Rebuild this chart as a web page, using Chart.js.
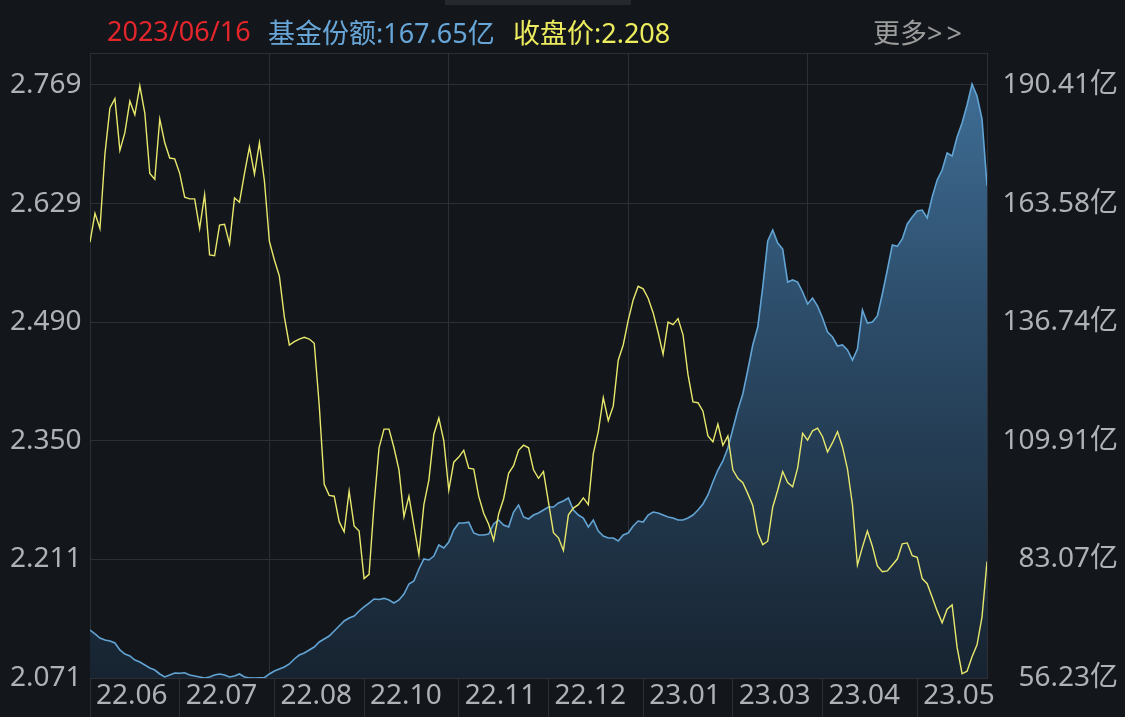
<!DOCTYPE html>
<html>
<head>
<meta charset="utf-8">
<script src="https://cdn.jsdelivr.net/npm/chart.js@4.4.0/dist/chart.umd.min.js"></script>
<style>
  body { margin: 0; background: #13161b; overflow: hidden; }
  #wrap { position: relative; width: 1125px; height: 717px; }
  #tab { position: absolute; left: 445px; top: 0; width: 186px; height: 5px; background: #25282d; }
  .hd { position: absolute; top: 12px; font-size: 27px; font-family: "Noto Sans", "Noto Sans CJK SC", sans-serif; white-space: nowrap; }
</style>
</head>
<body>
<div id="wrap">
  <canvas id="myChart" width="1125" height="717"></canvas>
  <div id="tab"></div>
  <span class="hd" style="left:107px;color:#e3262b">2023/06/16</span>
  <span class="hd" style="left:268px;color:#68a6d8">基金份额:167.65亿</span>
  <span class="hd" style="left:513px;color:#ecec5e">收盘价:2.208</span>
  <span class="hd" style="left:873px;color:#9c9c9c">更多<span style="letter-spacing:4px">&gt;&gt;</span></span>
</div>
<script>
// closing price, one value per trading day
const priceData = [
  2.584, 2.618, 2.600, 2.688, 2.742, 2.753, 2.692, 2.713, 2.750, 2.734,
  2.768, 2.736, 2.665, 2.658, 2.729, 2.701, 2.683, 2.682, 2.665, 2.637,
  2.635, 2.635, 2.600, 2.640, 2.569, 2.568, 2.604, 2.605, 2.582, 2.636,
  2.631, 2.665, 2.696, 2.664, 2.701, 2.656, 2.585, 2.563, 2.544, 2.496,
  2.463, 2.467, 2.470, 2.472, 2.470, 2.465, 2.392, 2.299, 2.286, 2.285,
  2.255, 2.243, 2.291, 2.250, 2.244, 2.188, 2.193, 2.275, 2.342, 2.364,
  2.364, 2.342, 2.316, 2.261, 2.285, 2.250, 2.216, 2.275, 2.304, 2.358,
  2.377, 2.350, 2.292, 2.325, 2.331, 2.339, 2.318, 2.317, 2.285, 2.265,
  2.252, 2.233, 2.264, 2.282, 2.312, 2.321, 2.339, 2.345, 2.342, 2.316,
  2.306, 2.314, 2.278, 2.242, 2.236, 2.221, 2.263, 2.271, 2.275, 2.283,
  2.275, 2.335, 2.361, 2.401, 2.374, 2.391, 2.445, 2.463, 2.492, 2.516,
  2.532, 2.529, 2.518, 2.501, 2.478, 2.452, 2.490, 2.487, 2.494, 2.475,
  2.428, 2.396, 2.395, 2.385, 2.356, 2.349, 2.370, 2.345, 2.356, 2.316,
  2.306, 2.301, 2.288, 2.274, 2.242, 2.228, 2.232, 2.272, 2.292, 2.314,
  2.301, 2.296, 2.318, 2.359, 2.351, 2.362, 2.365, 2.355, 2.337, 2.348,
  2.361, 2.343, 2.317, 2.275, 2.204, 2.225, 2.244, 2.226, 2.203, 2.196,
  2.197, 2.204, 2.211, 2.229, 2.230, 2.215, 2.213, 2.188, 2.182, 2.166,
  2.150, 2.136, 2.152, 2.157, 2.107, 2.076, 2.079, 2.096, 2.110, 2.143,
  2.208
];

// fund shares (亿)
const shareData = [
  67.09, 66.19, 65.28, 64.83, 64.60, 64.15, 62.57, 61.66, 61.21, 60.30,
  59.85, 59.17, 58.49, 58.04, 57.14, 56.46, 56.91, 57.36, 57.30, 57.42,
  56.91, 56.68, 56.46, 56.25, 56.46, 56.91, 57.14, 56.91, 56.46, 56.68,
  57.14, 56.46, 56.25, 56.23, 56.28, 56.30, 57.14, 57.81, 58.27, 58.72,
  59.40, 60.53, 61.43, 61.89, 62.57, 63.24, 64.38, 65.05, 65.73, 66.86,
  68.00, 69.13, 69.81, 70.26, 71.39, 72.30, 73.20, 74.11, 74.00, 74.25,
  73.88, 73.20, 73.88, 75.24, 77.50, 78.18, 80.89, 83.16, 82.93, 83.83,
  86.32, 85.65, 87.00, 89.72, 91.30, 91.30, 91.50, 89.04, 88.59, 88.59,
  88.81, 91.08, 91.98, 90.85, 90.40, 93.79, 95.37, 92.66, 92.21, 93.11,
  93.56, 94.24, 94.92, 94.92, 95.83, 96.28, 96.96, 94.24, 93.11, 92.43,
  90.40, 91.98, 89.49, 88.36, 87.91, 87.91, 87.23, 88.59, 89.04, 90.62,
  91.75, 91.53, 93.11, 93.79, 93.56, 93.11, 92.66, 92.43, 91.98, 91.98,
  92.43, 93.11, 94.24, 95.60, 97.64, 100.58, 103.29, 105.33, 108.27, 112.57,
  116.87, 120.49, 125.92, 131.58, 135.65, 144.70, 155.11, 157.60, 154.66, 153.30,
  145.83, 146.29, 145.83, 143.57, 140.85, 142.21, 140.40, 137.69, 134.52, 133.39,
  131.35, 131.60, 130.45, 128.18, 130.67, 139.50, 136.56, 136.78, 138.14, 143.12,
  148.55, 154.20, 153.90, 155.56, 158.96, 160.54, 161.90, 162.12, 160.31, 165.07,
  168.91, 171.18, 175.02, 174.34, 178.64, 181.81, 185.88, 190.63, 187.92, 182.71,
  167.65
];

const xLabels = ["22.06", "22.07", "22.08", "22.10", "22.11", "22.12", "23.01", "23.03", "23.04", "23.05"];
const xLabelDay = [0, 18, 37, 55, 74, 92, 111, 129, 147, 166];
const gridDay = [0, 36, 72, 108, 144, 180];
const priceTicks = [2.071, 2.211, 2.350, 2.490, 2.629, 2.769];
const shareTicks = [56.23, 83.07, 109.91, 136.74, 163.58, 190.41];

const GRID = "#2c3036";
const TICK = "#aeb1b6";
const FONT = "'Noto Sans', 'Noto Sans CJK SC', sans-serif";

// the top grid line sits a bit above the last labelled tick
const headroom = 625 / 593;
const priceMax = priceTicks[0] + (priceTicks[5] - priceTicks[0]) * headroom;
const shareMax = shareTicks[0] + (shareTicks[5] - shareTicks[0]) * headroom;

const lastDay = priceData.length - 1;

const ctx = document.getElementById("myChart").getContext("2d");
new Chart(ctx, {
  type: "line",
  data: {
    datasets: [
      {
        label: "收盘价",
        data: priceData.map((v, i) => ({ x: i, y: v })),
        yAxisID: "y",
        borderColor: "#e8e86c",
        borderWidth: 1.4,
        pointRadius: 0,
        tension: 0,
        fill: false,
      },
      {
        label: "基金份额",
        data: shareData.map((v, i) => ({ x: i, y: v })),
        yAxisID: "y1",
        borderColor: "#62a4d4",
        borderWidth: 1.6,
        pointRadius: 0,
        tension: 0,
        fill: "start",
        backgroundColor: (c) => {
          const a = c.chart.chartArea;
          if (!a) return "rgba(0,0,0,0)";
          const g = c.chart.ctx.createLinearGradient(0, a.top, 0, a.bottom);
          g.addColorStop(0, "#41719a");
          g.addColorStop(0.45, "#2b4a66");
          g.addColorStop(1, "#172330");
          return g;
        },
      },
    ],
  },
  options: {
    responsive: false,
    animation: false,
    layout: { padding: { top: 53, left: 10, right: 7, bottom: 0 } },
    plugins: { legend: { display: false }, tooltip: { enabled: false } },
    scales: {
      x: {
        type: "linear",
        min: 0,
        max: lastDay,
        weight: 0,
        afterBuildTicks: (s) => { s.ticks = gridDay.map((v) => ({ value: v })); },
        ticks: { display: false },
        grid: { color: GRID, drawTicks: false },
        border: { color: GRID },
        afterFit: (s) => { s.height = 0; },
      },
      xl: {
        type: "linear",
        position: "bottom",
        min: 0,
        max: lastDay,
        weight: 1,
        afterBuildTicks: (s) => { s.ticks = xLabelDay.map((v) => ({ value: v })); },
        ticks: {
          callback: (v, i) => xLabels[i],
          align: "start",
          padding: -38,
          labelOffset: 6,
          maxRotation: 0,
          autoSkip: false,
          color: TICK,
          font: { family: FONT, size: 28 },
        },
        grid: { drawOnChartArea: false, tickLength: 39, color: GRID },
        border: { display: false },
        afterFit: (s) => { s.height = 39; },
      },
      y: {
        position: "left",
        min: priceTicks[0],
        max: priceMax,
        afterBuildTicks: (s) => { s.ticks = priceTicks.concat([priceMax]).map((v) => ({ value: v })); },
        ticks: {
          callback: (v, i) => (i < priceTicks.length ? priceTicks[i].toFixed(3) : ""),
          crossAlign: "far",
          color: TICK,
          font: { family: FONT, size: 28 },
        },
        grid: { color: GRID, drawTicks: false },
        border: { color: GRID },
        afterFit: (s) => { s.width = 80; },
      },
      y1: {
        position: "right",
        min: shareTicks[0],
        max: shareMax,
        afterBuildTicks: (s) => { s.ticks = shareTicks.concat([shareMax]).map((v) => ({ value: v })); },
        ticks: {
          callback: (v, i) => (i < shareTicks.length ? shareTicks[i].toFixed(2) + "亿" : ""),
          crossAlign: "far",
          color: TICK,
          font: { family: FONT, size: 28 },
        },
        grid: { drawOnChartArea: false, drawTicks: false },
        border: { color: GRID },
        afterFit: (s) => { s.width = 131; },
      },
    },
  },
});
</script>
</body>
</html>
